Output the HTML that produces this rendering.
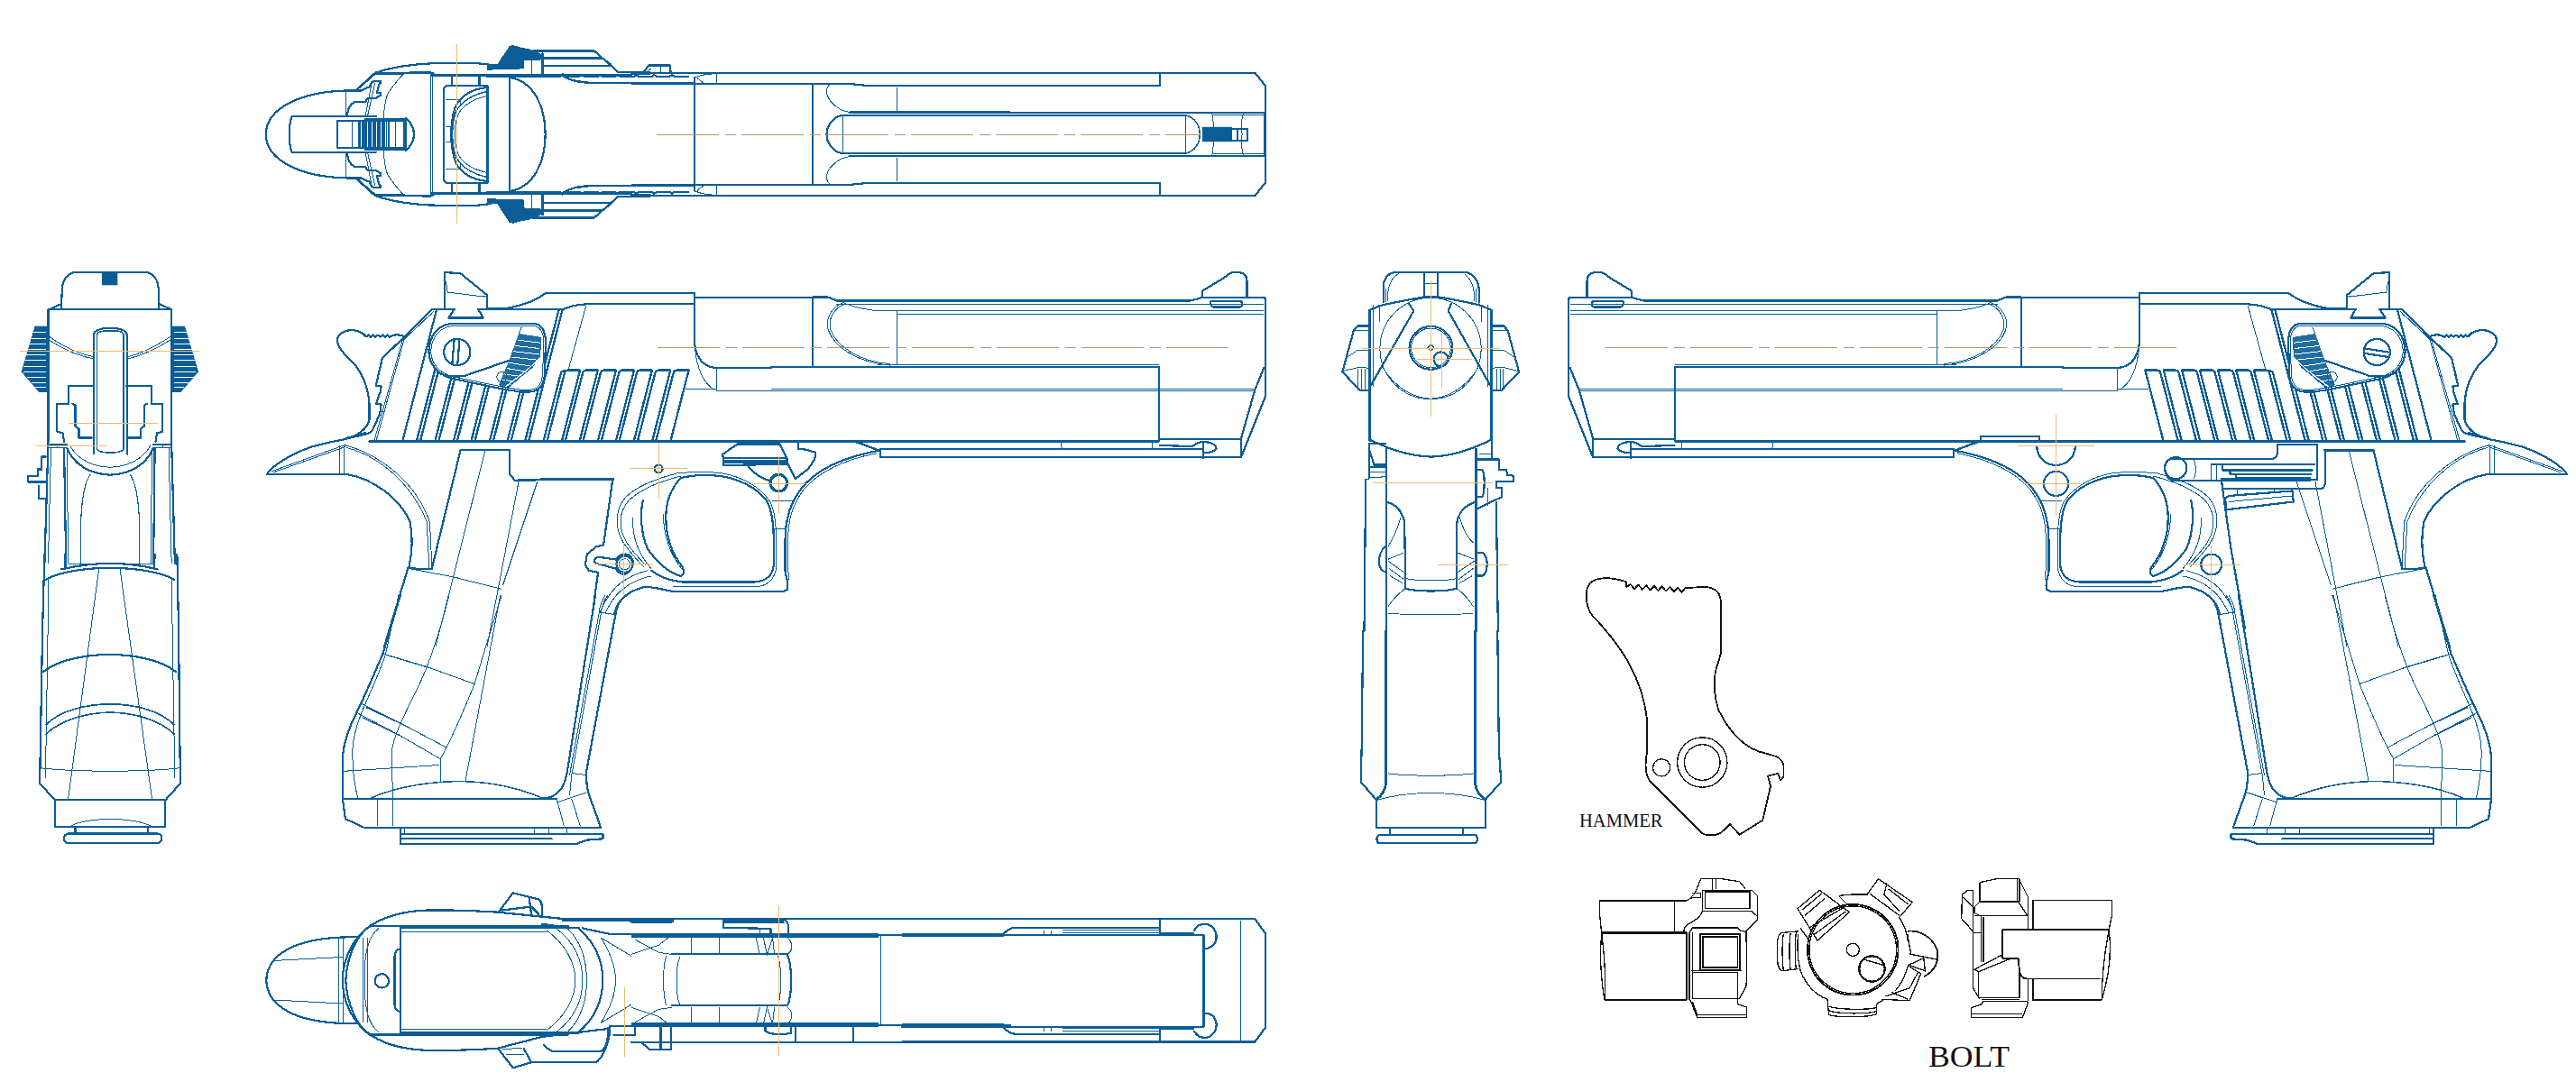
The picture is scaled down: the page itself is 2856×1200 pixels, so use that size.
<!DOCTYPE html>
<html><head><meta charset="utf-8"><style>
html,body{margin:0;padding:0;background:#fff;width:2856px;height:1200px;overflow:hidden}
svg{display:block;shape-rendering:crispEdges}
.k{fill:none;stroke:#0a5d96;stroke-width:2.2;stroke-linejoin:round;stroke-linecap:round}
.m{fill:none;stroke:#0a5d96;stroke-width:1.6;stroke-linejoin:round}
.t{fill:none;stroke:#0a5d96;stroke-width:1}
.k,.m,.t,.o,.b,.bt{vector-effect:non-scaling-stroke}
.f{fill:#0a5d96;stroke:#0a5d96;stroke-width:1}
.w{fill:#fff}
.o{fill:none;stroke:#eebb70;stroke-width:1}
.oc{fill:none;stroke:#b09868;stroke-width:1;stroke-dasharray:69 6.5 12 6.5}
.b{fill:none;stroke:#111;stroke-width:1.8;stroke-linejoin:round}
.bt{fill:none;stroke:#111;stroke-width:1.3}
text{font-family:"Liberation Serif",serif;fill:#111}
</style></head><body>
<svg width="2856" height="1200" viewBox="0 0 2856 1200">
<!-- TOP VIEW -->
<g id="topv">
<g transform="translate(280,40) scale(0.20329)">
 <g id="t1h">
  <path class="k" d="M 590,296 L 500,298 C 280,305 75,385 72,536"/>
  <path class="k" d="M 492,299 L 592,299 L 615,285 L 637,278 L 649,252 L 662,244 L 700,244 L 700,256 L 692,258 L 678,311 L 700,311 L 700,326 L 692,326 L 672,340 L 627,340 L 615,360 L 557,360 C 535,370 520,395 517,426 L 517,438"/>
  <path class="k" d="M 569,291 L 668,201 C 720,183 800,165 870,158 C 920,152 960,149 1000,149 L 1230,149 L 1300,157"/>
  <path class="t" d="M 580,287 L 668,210 L 971,203"/>
  <path class="k" d="M 668,201 L 971,199 L 990,206 L 995,214"/>
  <path class="t" d="M 827,203 C 800,230 760,280 737,315 C 720,360 712,420 712,536"/>
  <path class="t" d="M 668,254 L 627,438"/>
  <path class="t" d="M 650,256 L 615,438"/>
  <path class="k" d="M 492,438 L 672,438"/>
  <path class="k" d="M 665,437 L 215,437 C 203,470 200,500 200,536"/>
  <path class="t" d="M 508,300 L 508,437"/>
  <path class="k" d="M 462,536 L 462,462 L 836,462 L 836,536"/>
  <path class="k" d="M 612,457.5 L 836,457.5" style="stroke-width:3.5;stroke-linecap:butt"/>
  <path class="k" d="M 836,446 C 862,470 880,500 881,536"/>
  <path class="t" d="M 542,462 V 536 M 587,462 V 536 M 606.5,457 V 536 M 631,457 V 536 M 655,457 V 536 M 680,457 V 536 M 704.4,457 V 536 M 729,457 V 536 M 778,457 V 536"/>
  <path class="k" style="stroke-width:2" d="M 578,462 V 536 M 599.6,462 V 536 M 741.3,457 V 536 M 827,457 V 536"/>
  <path class="k" style="stroke-width:3" d="M 618.8,457 V 536 M 643.4,457 V 536 M 668,457 V 536 M 692.1,457 V 536 M 716.7,457 V 536"/>
  <path class="t" d="M 971,203 L 971,536 M 983,215 L 983,536"/>
  <path class="k" d="M 975,214 L 2066,214"/>
  <path class="k" d="M 1089,217 V 272 M 1237,217 V 272"/>
  <path class="k" d="M 1044,536 L 1044,285 L 1057,272 L 1281,272 L 1281,536"/>
  <path class="k" d="M 1269,281 C 1200,290 1150,320 1120,360 C 1095,400 1085,460 1083,536"/>
  <path class="k" d="M 1275,303 C 1200,320 1140,360 1110,410 C 1095,450 1090,490 1090,536" style="stroke-width:1.5"/>
  <path class="t" d="M 1275,328 C 1200,345 1150,380 1125,420 C 1108,460 1102,500 1102,536"/>
  <path class="t" d="M 1052,346 L 1134,346 L 1134,385 M 1052,493 L 1081,493"/>
  <path class="k" d="M 1400,221 L 1400,536"/>
  <path class="k" d="M 1402,226 C 1530,245 1597,380 1597,536"/>
  <path class="k" d="M 1690,216 C 1730,240 1770,252 1820,254 L 2066,254"/>
  <path class="t" d="M 1700,222 C 1740,240 1780,248 1830,248"/>
 </g>
 <use href="#t1h" transform="matrix(1,0,0,-1,0,1072)"/>
 <path class="o" d="M 1114,45 L 1114,1025"/>
</g>
<!-- safety lever top view, native-ish zoom 14.31 -->
<g transform="translate(540,40) scale(0.069877)">
 <g id="sfh">
  <path class="f" d="M 0,450 L 170,450 L 220,360 L 320,215 L 350,160 L 410,145 L 540,180 L 690,210 L 720,235 L 850,275 L 870,330 L 600,340 L 580,520 L 0,540 Z"/>
  <path class="k" d="M 720,235 L 1700,235 L 2080,570 L 2576,575"/>
  <path class="k" d="M 600,350 L 1830,350 L 1960,450"/>
  <path class="k" d="M 880,470 L 1960,470"/>
  <path class="k" d="M 880,280 L 880,610"/>
  <path class="t" d="M 710,390 L 710,610 M 600,380 L 850,380"/>
  <path class="k" d="M 0,610 L 2576,610" style="stroke-width:1.2"/>
  <path class="k" d="M 0,640 L 1160,640 L 1200,605 L 1240,640 L 1470,640 L 1500,615 L 1540,640 L 1760,640 L 1790,615 L 1830,640 L 2040,640 L 2070,615 L 2110,640 L 2330,640 L 2360,615 L 2400,640 L 2620,640 L 2650,615 L 2690,640 L 2900,640 L 2930,615 L 2970,640 L 3190,640"/>
 </g>
 <use href="#sfh" transform="matrix(1,0,0,-1,0,3118)"/>
</g>
<g transform="translate(700,40) scale(0.20329)">
 <g id="t2h">
  <path class="k" d="M 0,200 L 2066,200"/>
  <path class="k" d="M 0,258 L 345,258"/>
  <path class="k" d="M 345,262 L 1200,262 C 1240,265 1280,272 1330,272 L 2066,272"/>
  <path class="k" d="M 345,228 L 345,536"/>
  <path class="t" d="M 345,228 C 370,215 400,208 440,207 M 360,230 L 392,255"/>
  <path class="t" d="M 465,205 L 465,258"/>
  <path class="k" d="M 990,262 L 990,536"/>
  <path class="t" d="M 1080,265 C 1058,290 1058,330 1100,370 C 1130,400 1160,412 1190,415"/>
  <path class="k" d="M 1190,416 L 2066,416"/>
  <path class="k" d="M 1150,431 L 2066,431"/>
  <path class="k" d="M 1150,432 C 1100,440 1065,490 1065,536"/>
  <path class="t" d="M 1155,432 L 1155,536"/>
  <path class="t" d="M 1448,278 L 1448,410"/>
 </g>
 <use href="#t2h" transform="matrix(1,0,0,-1,0,1072)"/>
 <path class="k" d="M 65,200 L 95,160 L 210,160 L 215,200"/>
 <path class="t" d="M 160,168 L 160,200 M 85,195 L 110,175"/>

</g>
<g transform="translate(1000,40) scale(0.20329)">
 <g id="t3h">
  <path class="k" d="M 0,200 L 1925,200 L 1982,272 L 1982,536"/>
  <path class="k" d="M 0,272 L 1405,272 L 1405,200"/>
  <path class="k" d="M 0,417 L 1975,417"/>
  <path class="k" d="M 0,432 L 1548,432"/>
  <path class="t" d="M 1548,432 L 1548,536"/>
  <path class="k" d="M 1548,432 C 1600,445 1625,490 1625,536" style="stroke-width:1.5"/>
  <path class="t" d="M 1690,417 C 1700,460 1700,500 1698,536 M 1862,417 C 1850,460 1850,500 1855,536 M 1690,430 L 1975,430 M 1975,417 L 1975,536"/>
 </g>
 <use href="#t3h" transform="matrix(1,0,0,-1,0,1072)"/>
 <rect class="f" x="1640" y="495" width="160" height="82"/>
 <path class="k" d="M 1800,505 L 1885,505 L 1885,570 L 1800,570 M 1828,505 L 1828,570"/>
</g>
</g>

<g id="LV">

<g id="serr"><path class="k" style="stroke-width:2.3" d="M 462.0,489.0 L 494.6,362 M 466.0,489.0 L 498.6,362 M 482.4,489.0 L 515.0,362 M 486.4,489.0 L 519.0,362 M 502.9,489.0 L 535.5,362 M 506.9,489.0 L 539.5,362 M 522.5,489.0 L 555.1,362 M 526.5,489.0 L 559.1,362 M 542.9,489.0 L 575.5,362 M 546.9,489.0 L 579.5,362 M 562.6,489.0 L 595.2,362 M 566.6,489.0 L 599.2,362 M 582.2,489.0 L 619.6,343.5 M 586.2,489.0 L 623.6,343.5 M 602.6,489.0 L 622.1,413 Q 623.7,410.6 629.7,410.6 M 606.6,489.0 L 626.0,413.6 Q 626.7,410.6 629.7,410.6 L 643.1,410.6 L 623.0,489.0 M 626.7,489.0 L 646.1,413.6 Q 646.8,410.6 649.8,410.6 L 662.8,410.6 L 642.7,489.0 M 646.5,489.0 L 665.9,413.6 Q 666.6,410.6 669.6,410.6 L 683.0,410.6 L 662.9,489.0 M 666.8,489.0 L 686.2,413.6 Q 686.9,410.6 689.9,410.6 L 703.0,410.6 L 682.9,489.0 M 686.6,489.0 L 706.0,413.6 Q 706.7,410.6 709.7,410.6 L 722.9,410.6 L 702.8,489.0 M 707.0,489.0 L 726.4,413.6 Q 727.1,410.6 730.1,410.6 L 743.3,410.6 L 723.2,489.0 M 727.3,489.0 L 746.7,413.6 Q 747.4,410.6 750.4,410.6 L 763.6,410.6 L 743.5,489.0"/>
</g>
<g transform="translate(290,290) scale(0.21933)">
 <path class="k" d="M 925,235 L 925,55 L 1005,60 L 1140,170 L 1140,235"/>
 <path class="t" d="M 932,100 L 940,155 L 1125,178 L 1140,170"/>
 <path class="k" d="M 865,240 L 975,240 L 945,285 L 1120,285 L 1095,240 L 1520,240"/>
 <path class="k" d="M 1140,240 L 1250,235 C 1330,220 1390,195 1435,160 L 2190,160 L 2190,182 L 2576,182"/>
 <path class="k" d="M 2190,160 L 2190,420 C 2195,480 2230,530 2290,537 L 2576,537"/>
 <path class="k" d="M 1525,242 C 1560,225 1600,218 1640,216 L 2190,216"/>
 <path class="t" d="M 2145,645 L 2300,645 M 2300,540 L 2300,655 L 2576,655 M 2190,430 C 2200,550 2240,620 2290,650"/>
 <path class="t" d="M 1640,225 L 1550,550"/>
 <path class="k" d="M 885,243 L 713,906"/>
 <path class="k" d="M 865,240 L 610,490 L 578,628 L 605,632 L 600,660 L 580,720 L 605,722 L 598,770 L 578,815 L 560,855 L 540,870 L 435,895"/>
 <path class="t" d="M 870,252 L 720,395 L 580,905 M 862,262 L 712,400 L 570,905"/>
 <path class="k" d="M 718,378 C 700,370 680,368 660,375 L 648,382 L 636,372 L 624,382 L 612,372 L 600,382 L 588,372 L 576,382 L 564,372 L 552,382 L 540,372 L 528,380 L 510,362 L 480,350 C 430,340 385,360 383,400 C 385,440 430,480 470,520 C 510,570 540,640 545,720 L 545,800 C 530,850 490,880 430,893"/>
 <path class="k" d="M 545,910 L 2576,910"/>
</g>
<!-- safety lever -->
<g transform="translate(440,330) scale(0.15714)">
 <path class="k" style="fill:#fff" d="M 380,185 L 965,185 C 1020,188 1050,230 1050,320 L 1042,555 C 1035,620 1000,660 940,665 L 870,665 L 740,645 L 430,580 C 300,560 228,480 225,380 C 228,270 290,195 380,185 Z"/>
 <path class="t" d="M 395,200 L 962,200 C 1010,204 1036,240 1036,322 L 1028,552 C 1020,610 990,648 940,650 L 872,650 L 742,630 L 432,566 C 310,548 242,475 240,380 C 243,280 300,210 395,200 Z"/>
 <circle class="k" cx="425" cy="385" r="93"/>
 <path class="k" d="M 290,530 C 360,565 430,560 480,552 L 790,445"/>
 <path class="f" style="opacity:0.9" d="M 860,255 L 1020,280 L 1012,420 L 950,480 L 745,640 L 720,615 L 790,450 Z"/>
 <path class="t" style="stroke:#fff" d="M 850,300 L 1010,320 M 835,340 L 1008,360 M 820,380 L 1005,400 M 805,420 L 990,440 M 790,460 L 950,485 M 775,500 L 900,520 M 760,540 L 860,555 M 745,580 L 810,590"/>
 <path class="t" d="M 880,210 L 860,255 M 960,490 L 760,645 M 975,470 L 770,650"/>
 <circle class="t" cx="740" cy="560" r="35"/>
</g>

<g transform="translate(855,290) scale(0.21933)">
 <path class="k" d="M 0,182 L 210,182 M 210,180 L 285,180 L 330,198 L 2120,198 L 2180,182"/>
 <path class="k" d="M 2180,182 L 2180,148 L 2280,88 L 2320,60 C 2340,50 2385,50 2400,75 L 2405,100 L 2405,182 L 2492,182 L 2497,190"/>
 <path class="k" d="M 2180,182 L 2495,182"/>
 <path class="k" d="M 2225,200 L 2370,200 C 2385,205 2385,225 2370,230 L 2235,230 C 2220,225 2218,205 2225,200"/>
 <path class="k" d="M 2497,188 L 2497,685 L 2375,990 M 2490,540 L 2445,650 L 2375,895"/>
 <path class="t" d="M 330,215 L 2490,215 M 370,212 C 420,230 480,245 545,250 L 2490,250 M 635,265 L 2490,265"/>
 <path class="k" d="M 210,180 L 210,535"/>
 <path class="t" d="M 370,205 C 300,230 270,300 290,350 C 320,430 430,510 600,525 M 377,213 C 312,236 284,300 302,350 C 332,425 437,505 600,518"/>
 <path class="t" d="M 635,250 L 635,525"/>
 <path class="k" d="M 0,535 L 1960,535 L 1960,905"/>
 <path class="t" d="M 540,523 L 1960,523"/>
 <path class="t" d="M 0,645 L 2445,645 M 0,655 L 2445,655"/>
 <path class="k" d="M 0,910 L 1960,910 M 1960,900 L 2375,900 L 2375,990 M 550,990 L 2375,990 M 550,950 L 2185,950 M 430,910 L 540,955 M 550,955 L 550,990 M 2185,910 L 2185,995"/>
 <path class="k" d="M 1965,930 L 2130,935 C 2150,915 2170,910 2195,912 C 2230,915 2250,930 2250,945 C 2245,960 2220,968 2190,965"/>
 <path class="t" d="M 1465,915 L 1470,955 M 1925,915 L 1925,950"/>
</g>

<g transform="translate(290,480) scale(0.21933)">
 <path class="k" d="M 30,205 C 60,165 150,105 250,72 C 330,48 400,38 430,30 L 480,14 L 525,0"/>
 <path class="k" d="M 25,210 L 430,210 C 560,230 700,330 750,450 C 765,520 762,600 745,680"/>
 <path class="t" d="M 420,62 C 600,110 780,250 850,450 L 862,690 M 430,75 C 600,120 760,260 835,450 L 848,690 M 50,195 L 420,62 M 60,200 L 425,70"/>
 <path class="t" d="M 395,65 L 395,210 M 415,65 L 415,210"/>
 <path class="k" d="M 1005,90 L 860,690"/>
 <path class="k" d="M 1005,88 L 1255,88"/>
 <path class="t" d="M 1130,90 L 880,1081 M 1300,245 L 1140,1081 M 1395,245 L 1220,770"/>
 <path class="t" d="M 740,685 L 975,730 L 1215,790"/>
 <path class="k" d="M 740,685 L 860,690"/>
 <path class="k" d="M 740,685 L 620,1081"/>
</g>

<g transform="translate(600,460) scale(0.20336)">
 <path class="k" d="M 760,345 C 820,330 900,325 980,335 C 1080,350 1180,400 1230,470 C 1260,520 1268,600 1268,700 L 1268,820 C 1262,880 1220,910 1160,912 L 770,912 C 700,905 640,880 600,850"/>
 <path class="t" d="M 740,320 C 820,310 900,310 980,318 C 1090,335 1190,390 1245,470 C 1275,520 1282,600 1282,700 L 1282,830 C 1275,900 1230,935 1170,938 L 720,938"/>
 <path class="k" d="M 1845,195 C 1650,230 1500,300 1420,400 C 1360,480 1330,560 1330,700 L 1330,850 C 1335,900 1355,920 1340,955 L 1320,965 L 720,965 C 650,950 600,935 560,940 C 480,960 420,1000 400,1082"/>
 <path class="t" d="M 1830,210 C 1650,245 1510,315 1430,410 C 1370,490 1345,570 1345,700 L 1348,900 M 1260,470 L 1370,470 M 1270,620 L 1330,620"/>
 <path class="k" d="M 555,465 C 540,530 540,640 580,730 C 640,820 700,860 760,880 C 780,872 782,850 770,830 C 700,740 680,640 680,560 C 680,470 710,400 760,345"/>
 <path class="t" d="M 665,540 C 668,650 700,760 770,845 M 500,560 C 495,660 530,760 600,840"/>
 <path class="k" d="M 1720,150 L 1845,195"/>
 <path class="t" d="M 1850,195 L 1850,235"/>
 <path class="k" d="M 0,350 L 390,350 L 340,710"/>
 <path class="t" d="M 745,318 C 620,350 520,390 460,450 C 400,520 400,620 450,700 C 490,760 530,800 560,830 M 760,335 C 640,365 545,405 480,465 C 420,530 420,620 465,695 C 500,750 540,790 570,820"/>
 <path class="t" d="M 580,850 C 500,870 440,900 390,960 C 350,1010 330,1050 320,1082 M 600,880 C 520,895 460,930 410,985 C 380,1020 360,1060 350,1082"/>
</g>

<g transform="translate(290,660) scale(0.27723)">
 <path class="k" d="M 555,0 L 485,235 C 440,340 400,430 380,470 C 350,530 330,580 325,640 L 325,820 L 335,895 L 410,930 L 1355,930"/>
 <path class="k" d="M 1460,0 C 1435,15 1420,45 1415,80 L 1300,700 C 1298,740 1302,780 1310,800 L 1355,925"/>
 <path class="k" d="M 1335,0 L 1225,690 C 1215,760 1195,795 1150,810 L 1120,815"/>
 <path class="t" d="M 1385,0 C 1370,20 1360,45 1358,70 L 1240,720 L 1232,800 M 1375,0 C 1362,20 1352,45 1350,70 L 1232,720"/>
 <path class="k" d="M 330,815 L 1180,815"/>
 <path class="t" d="M 463,820 L 463,925 M 525,820 L 525,925"/>
 <path class="t" d="M 1180,815 L 1210,925 M 1240,815 L 1275,925 M 1240,712 L 1300,720 M 1180,830 L 1300,790 M 1358,70 L 1415,78"/>
 <path class="k" d="M 430,815 C 550,760 700,745 800,745 C 950,748 1050,780 1130,815" style="stroke-width:1.5"/>
 <path class="t" d="M 485,235 L 670,290 L 850,355 M 400,435 L 570,520 L 740,610 M 380,470 L 550,560 L 715,655 M 320,705 L 710,680"/>
 <path class="k" d="M 485,235 L 670,290 M 420,450 L 570,520 M 405,490 L 550,560" style="stroke-width:1.4"/>
 <path class="t" d="M 750,0 C 700,200 660,300 620,380 C 560,500 520,580 520,640 L 525,815 M 960,0 L 850,360 C 800,480 760,580 715,655 L 715,745 M 955,0 L 815,745"/>
 <path class="t" d="M 548,0 L 495,240 C 440,400 380,480 365,600 C 360,680 370,750 385,815"/>
 <path class="k" d="M 555,930 L 555,995 L 1260,995 L 1300,980 L 1365,975 L 1365,955 L 1270,955 M 555,955 L 1270,955 M 555,975 L 1160,975"/>
 <path class="t" d="M 570,930 L 570,955 M 1090,930 L 1090,955 M 1150,930 L 1150,955 M 1220,930 L 1220,955"/>
</g>

</g>

<use href="#LV" transform="matrix(-1,0,0,1,3142,0)"/>

<g transform="translate(600,460) scale(0.20336)">
 <circle class="k" cx="640" cy="295" r="22"/>
 <path class="k" d="M 990,215 L 1070,160 L 1300,160 L 1340,240 L 1345,270 L 995,275 Z"/>
 <path class="k" d="M 995,235 L 1335,235 M 995,250 L 1340,250 M 995,262 L 1340,262"/>
 <path class="k" d="M 1130,285 C 1170,330 1210,350 1245,360 M 1345,270 L 1385,350 M 1385,350 L 1450,300 C 1490,260 1500,220 1495,205 L 1440,190 L 1400,185 L 1400,150"/>
 <circle class="k" cx="1295" cy="372" r="48" style="fill:#fff"/>
 <circle class="t" cx="1295" cy="372" r="40"/>
 <path class="o" d="M 1160,375 L 1440,375 M 1295,220 L 1295,535"/>
 <path class="k" d="M 310,775 L 410,790 C 420,770 440,760 460,760 C 490,762 505,790 500,815 C 495,850 470,870 450,870 C 430,870 415,855 410,840 L 300,810 C 285,800 285,785 310,775 Z"/>
 <circle class="k" cx="455" cy="815" r="45"/>
 <circle class="t" cx="455" cy="815" r="30"/>
 <path class="t" d="M 425,815 L 485,815"/>
 <path class="o" d="M 480,295 L 800,295 M 640,150 L 640,455 M 450,700 L 450,980 M 300,815 L 610,815"/>
 <path class="k" d="M 340,710 L 300,720 L 250,760 L 240,820 L 260,850 L 310,860 L 280,1082"/>
</g>
<g transform="translate(290,480) scale(0.21933)">
 <path class="k" d="M 1255,88 L 1255,210 L 1280,240 L 1780,235"/>
</g>
<g transform="translate(440,330) scale(0.15714)">
 <path class="k" d="M 405,298 L 390,472 M 442,295 L 428,472"/>
</g>

<g transform="translate(2160,460) scale(0.21933)">
 <path class="k" d="M 2150,180 L 1905,180 L 1905,345 C 1905,362 1895,375 1878,375 L 1390,375"/>
 <path class="k" d="M 1426,658 L 1500,1081"/>
 <path class="k" d="M 165,132 L 165,108 L 460,108 L 460,132"/>
 <path class="k" d="M 448,158 A 97,97 0 0 0 642,158"/>
 <circle class="k" cx="545" cy="348" r="62"/>
 <circle class="k" cx="1330" cy="757" r="52"/>
 <path class="o" d="M 355,158 L 740,158 M 545,0 L 545,510 M 385,348 L 665,348 M 1185,757 L 1475,757 M 1330,660 L 1330,910"/>
 <path class="k" d="M 1130,330 C 1105,320 1095,290 1095,265 C 1095,240 1105,225 1140,222 L 1640,222 C 1660,220 1665,205 1665,180 L 1665,150 L 1865,150 L 1865,330 L 1130,333"/>
 <circle class="k" cx="1150" cy="270" r="55"/>
 <path class="t" d="M 1240,228 C 1255,250 1255,300 1240,325 M 1330,250 L 1330,330 M 1355,255 L 1355,330"/>
 <path class="k" d="M 1330,250 L 1850,250 M 1385,258 L 1385,280 L 1840,280 M 1425,285 L 1425,300 L 1835,300 M 1455,305 L 1455,320 L 1830,320"/>
 <path class="k" d="M 1400,420 L 1420,410 L 1740,385 L 1745,440 L 1405,480 Z"/>
 <path class="t" d="M 1460,380 L 1460,410 M 1650,375 L 1650,395 M 1420,440 L 1740,410"/>
</g>
<path class="k" d="M 2622,386.5 L 2648,390.5 M 2622,392 L 2648,396"/>

<!-- REAR VIEW -->
<g transform="translate(20,290) scale(0.30942)">
 <path class="k" d="M 155,165 L 158,95 C 162,58 185,38 212,38 L 453,38 C 480,38 500,60 503,95 L 505,165"/>
 <rect class="f" x="302" y="38" width="55" height="47"/>
 <path class="k" d="M 118,170 L 155,152 M 505,152 L 545,170"/>
 <path class="k" d="M 108,650 L 108,172 L 550,172 L 550,650"/>
 <path class="t" d="M 112,270 C 170,310 230,335 275,342 M 112,282 C 170,320 230,342 275,350 M 545,270 C 485,310 425,335 388,342 M 545,282 C 485,320 425,342 388,350"/>
 <path class="k" d="M 272,690 L 272,262 C 272,248 290,240 330,238 C 370,240 390,248 390,262 L 392,690"/>
 <path class="m" d="M 283,670 L 283,262 C 283,252 300,248 330,248 C 362,248 378,252 378,262 L 378,670 C 378,680 365,685 330,685 C 295,685 283,680 283,670"/>
 <g id="rstep">
  <path class="k" d="M 270,445 L 180,445 L 180,510 L 140,510 L 140,610 L 160,615 L 165,645"/>
  <path class="k" d="M 195,510 L 205,515 L 205,590 L 218,600 L 218,632 L 265,632"/>
  <path class="f" d="M 60,232 L 108,232 L 108,468 L 75,468 L 12,395 L 46,282 Z"/>
  <path class="t" style="stroke:#fff" d="M 50,255 L 100,255 M 45,275 L 100,275 M 40,295 L 100,295 M 35,315 L 100,315 M 30,335 L 100,335 M 25,355 L 100,355 M 20,375 L 100,375 M 20,395 L 100,395 M 32,415 L 100,415 M 48,435 L 100,435 M 62,452 L 100,452"/>
 </g>
 <use href="#rstep" transform="matrix(-1,0,0,1,658,0)"/>
 <path class="k" d="M 108,655 L 175,655 M 485,655 L 550,655"/>
 <path class="t" d="M 108,668 L 175,668 M 485,668 L 550,668 M 140,655 L 140,668 M 518,655 L 518,668"/>
 <path class="t" d="M 185,660 C 215,710 265,735 330,738 C 395,735 445,710 475,660"/>
 <path class="k" d="M 175,668 C 200,730 260,762 330,765 C 400,762 460,730 485,668"/>
 <path class="k" d="M 108,655 L 95,1082 M 165,668 L 172,1082 M 490,668 L 485,1082 M 550,655 L 562,1082"/>
 <path class="t" d="M 118,668 L 108,1082 M 540,668 L 550,1082 M 175,668 L 180,1082 M 480,668 L 476,1082"/>
 <path class="k" d="M 100,700 L 85,700 L 85,745 L 70,745 L 70,770 L 35,770 L 35,790 L 100,790 M 75,805 L 75,850 L 100,850"/>
 <path class="t" d="M 225,1082 C 220,900 230,800 260,762 M 435,1082 C 440,900 430,800 400,762"/>
 <path class="o" d="M 5,323 L 650,323 M 60,660 L 320,660 M 180,580 L 500,580"/>
</g>
<g transform="translate(20,615) scale(0.30942)">
 <path class="k" d="M 95,0 L 88,250 L 80,700 L 78,820 L 130,878 M 570,0 L 575,250 L 580,700 L 582,820 L 530,878"/>
 <path class="k" d="M 133,878 L 133,975 L 528,975 L 528,878 Z"/>
 <path class="k" d="M 180,1000 L 500,1000 C 520,1005 520,1030 500,1035 L 180,1035 C 160,1030 160,1005 180,1000 M 205,975 L 205,1000 M 465,975 L 465,1000"/>
 <path class="k" d="M 155,53 C 220,38 280,32 330,32 C 380,32 440,38 500,53"/>
 <path class="t" d="M 180,35 L 480,35"/>
 <path class="k" d="M 100,90 C 150,60 250,48 330,48 C 410,48 510,60 560,90"/>
 <path class="k" d="M 90,420 C 150,375 250,360 330,358 C 410,360 510,375 565,420"/>
 <path class="k" d="M 100,610 C 150,560 240,537 330,536 C 420,537 510,560 559,610 M 99,645 C 150,595 240,567 330,566 C 420,567 510,595 559,643" style="stroke-width:1.7"/>
 <path class="t" d="M 80,765 C 200,780 460,780 580,765"/>
 <path class="t" d="M 290,50 L 180,875 M 365,50 L 480,875"/>
 <path class="t" d="M 110,80 L 100,700 L 100,800 M 550,80 L 560,700 L 560,800"/>
 <path class="t" d="M 185,975 C 250,940 410,940 480,975"/>
 <path class="k" d="M 168,0 L 170,50 M 490,0 L 488,50"/>
</g>

<!-- FRONT VIEW -->
<g transform="translate(1480,295) scale(0.20790)">
 <path class="k" d="M 258,192 L 258,110 C 262,60 290,35 330,32 L 695,32 C 740,40 765,80 768,120 L 768,195"/>
 <path class="t" d="M 280,188 C 280,110 300,62 340,42 M 745,188 C 745,110 720,62 690,42 M 270,190 L 270,120 M 755,190 L 755,120"/>
 <path class="k" d="M 475,35 L 475,162 M 548,35 L 548,162"/>
 <path class="t" d="M 480,95 L 545,95"/>
 <path class="k" d="M 185,235 L 240,212 C 320,192 400,180 475,165 L 548,165 C 640,180 720,195 780,212 L 835,235"/>
 <path class="k" d="M 185,235 L 185,930 M 835,235 L 835,930"/>
 <path class="k" d="M 205,212 L 205,640 M 815,212 L 815,640" style="stroke-width:1.6"/>
 <path class="t" d="M 240,212 L 240,300 M 780,212 L 780,300"/>
 <path class="k" d="M 185,925 C 300,985 420,1015 512,1018 C 600,1015 720,985 835,925"/>
 <circle class="t" cx="510" cy="440" r="270"/>
 <path class="t" d="M 255,540 C 320,650 420,705 510,708 C 600,705 700,650 765,540"/>
 <path class="k" d="M 395,200 L 420,240 L 190,640 M 620,200 L 605,240 L 830,640"/>
 <circle class="k" cx="512" cy="437" r="115"/>
 <circle class="t" cx="512" cy="437" r="105"/>
 <path class="t" d="M 420,370 L 490,330"/>
 <path class="k" d="M 512,420 L 529,437 L 512,454 L 495,437 Z" style="stroke-width:1.3"/>
 <circle class="k" cx="565" cy="497" r="38"/>
 <g id="fsaf2">
  <path class="k" d="M 120,320 L 185,320 L 185,665 L 135,665 L 40,565 L 100,345 Z"/>
  <path class="t" d="M 100,345 L 185,345 M 45,560 L 130,540 L 185,545 M 125,550 L 125,665 M 140,550 L 140,665 M 160,550 L 160,665 M 60,490 L 120,450 L 185,450"/>
 </g>
 <use href="#fsaf2" transform="matrix(-1,0,0,1,1022,0)"/>
 <path class="o" d="M 145,440 L 880,440 M 512,75 L 512,805 M 440,497 L 730,497 M 570,350 L 570,650"/>
</g>
<g transform="translate(1480,480) scale(0.20325)">
 <path class="k" d="M 190,0 L 190,45 M 185,60 L 185,250 M 168,255 L 160,1082"/>
 <path class="k" style="stroke-width:2.8" d="M 280,90 L 280,1082 M 770,90 L 770,1082"/>
 <path class="k" d="M 185,60 L 275,60 M 190,100 L 215,175 L 275,175 M 190,185 L 275,185"/>
 <path class="t" d="M 185,215 L 275,215 M 180,245 L 275,240 M 168,255 L 185,250"/>
 <path class="k" d="M 855,40 L 855,140 M 770,90 L 770,1082 M 880,380 L 890,1082"/>
 <path class="k" d="M 775,145 L 895,145 L 895,200 L 935,200 L 940,230 L 975,235 L 975,265 L 880,265 L 880,300 L 910,300 L 910,350 L 775,415"/>
 <path class="k" d="M 775,200 L 800,200 C 812,205 815,230 815,270 C 815,320 812,345 800,350 L 775,350"/>
 <path class="t" d="M 785,115 L 855,115 M 835,300 L 835,400"/>
 <path class="k" d="M 290,380 C 340,395 375,440 380,500 L 385,850 M 760,380 C 710,395 668,440 665,500 L 665,850 M 385,850 C 450,868 600,868 665,850"/>
 <path class="t" d="M 385,795 C 450,810 600,810 665,795"/>
 <path class="t" d="M 290,690 L 375,655 M 290,700 L 375,760 M 295,740 L 375,800 M 300,780 L 370,820 M 760,690 L 670,655 M 760,700 L 670,760 M 755,740 L 675,800 M 750,780 L 680,820"/>
 <path class="t" d="M 360,460 C 340,530 310,590 290,620 M 680,460 C 700,530 730,580 755,600"/>
 <path class="t" d="M 385,850 C 340,880 300,930 290,950 M 665,850 C 710,880 745,930 755,950 M 290,985 C 400,995 640,995 755,985"/>
 <path class="k" d="M 275,620 C 250,640 240,680 240,700 C 240,730 255,755 275,760"/>
 <path class="k" d="M 770,655 L 805,655 C 820,665 830,690 830,715 C 830,745 820,775 805,780 L 770,780"/>
 <path class="o" d="M 205,275 L 860,275 M 560,720 L 945,720"/>
</g>
<g transform="translate(1470,615) scale(0.30942)">
 <path class="k" d="M 133,275 L 128,700 L 125,815 L 180,878 M 615,275 L 620,700 L 628,815 L 572,878"/>
 <path class="k" style="stroke-width:2.8" d="M 215,275 L 215,820 C 212,850 200,865 180,878 M 535,275 L 535,820 C 538,850 550,865 572,878"/>
 <path class="k" d="M 180,878 L 180,978 L 572,978 L 572,878"/>
 <path class="k" d="M 190,1005 L 535,1005 C 545,1010 545,1030 535,1035 L 190,1035 C 180,1030 180,1010 190,1005 M 230,978 L 230,1005 M 490,978 L 490,1005"/>
 <path class="t" d="M 222,785 C 300,795 450,795 530,785 M 185,880 C 250,860 310,855 375,855 C 440,855 500,860 570,880"/>
</g>

<!-- BOTTOM VIEW -->
<g transform="translate(280,975) scale(0.20329)">
 <g id="b1h">
  <path class="k" d="M 570,315 L 470,318 C 250,330 80,400 75,552"/>
  <path class="t" d="M 470,318 L 470,552 M 495,318 L 495,552 M 115,445 L 495,425"/>
  <path class="k" d="M 1330,180 C 1200,172 1050,168 950,170 C 800,175 700,210 620,270 C 540,340 495,440 490,552"/>
  <path class="k" d="M 640,256 L 1720,256" style="stroke-width:2.8"/>
  <path class="k" d="M 640,258 C 570,300 515,420 508,552"/>
  <path class="t" d="M 690,268 C 630,310 610,400 610,552 M 605,320 L 605,552 M 625,320 L 625,552"/>
  <path class="k" d="M 805,552 L 805,265 L 1780,265"/>
  <path class="t" d="M 810,287 L 1605,287"/>
  <path class="t" d="M 1605,280 C 1700,350 1760,450 1760,552 M 1660,272 C 1760,350 1800,450 1800,552 M 1720,272 C 1800,350 1822,450 1822,552"/>
  <path class="k" d="M 1780,270 C 1870,350 1910,450 1910,552"/>
  <path class="t" d="M 1900,320 C 1950,400 1980,470 1980,552 M 1900,320 L 2066,420"/>
  <path class="k" d="M 805,380 C 785,385 775,400 775,420 L 775,552"/>
 </g>
 <use href="#b1h" transform="matrix(1,0,0,-1,0,1104)"/>
 <circle class="k" cx="705" cy="555" r="38"/>
 <path class="k" d="M 1330,180 L 1680,215 L 2066,215 M 1580,245 L 1720,265 M 1800,268 L 1950,300 L 2066,300"/>
 <path class="k" d="M 1690,225 L 2066,225"/>
 <path class="k" d="M 1340,182 L 1420,75 L 1560,110 C 1580,120 1582,150 1580,200 M 1360,170 L 1520,150 L 1560,190 M 1510,110 L 1520,190"/>
 <path class="k" d="M 1340,925 L 1420,1030 L 1520,1000 L 1480,925 M 1330,925 L 1580,860 L 1950,815 M 1520,1000 L 1870,1000 C 1900,990 1950,900 1950,800 M 1590,905 C 1610,930 1630,940 1650,940 L 1900,940 C 1930,920 1940,880 1940,810"/>
 <path class="t" d="M 1360,930 L 1470,920 M 1380,955 L 1480,955"/>
 <path class="k" d="M 1950,800 L 2066,800 M 1970,850 L 2066,850"/>
</g>
<g transform="translate(700,975) scale(0.20329)">
 <path class="k" d="M 0,218 L 2066,218"/>
 <path class="k" d="M 0,229 L 221,229" style="stroke-width:4"/>
 <path class="k" d="M 500,215 L 820,215 C 840,218 850,230 855,250 L 855,295 M 500,215 L 500,265 L 760,270 L 760,300"/>
 <path class="f" d="M 500,215 L 830,215 L 835,240 L 500,240 Z"/>
 <path class="t" d="M 700,275 L 700,305"/>
 <path class="k" d="M 0,309 L 1350,309" style="stroke-width:5.3;stroke-linecap:butt"/>
 <path class="k" d="M 1350,305 L 2066,305"/>
 <path class="k" d="M 220,410 L 850,410 C 870,450 875,550 870,600 C 865,650 860,680 850,690 L 220,690"/>
 <path class="t" d="M 190,420 C 170,480 170,620 190,690 M 265,425 C 240,480 240,620 265,690 M 800,420 C 820,480 820,620 800,690"/>
 <path class="t" d="M 325,320 L 325,410 M 480,320 L 480,410 M 325,700 L 325,790 M 480,700 L 480,790 M 1358,310 L 1358,795"/>
 <path class="t" d="M 680,320 L 700,410 M 720,320 L 740,410 L 770,320 L 780,410 M 680,790 L 700,700 M 720,790 L 740,700 L 770,790 L 780,700 M 850,320 C 880,340 885,390 850,410 M 850,790 C 880,770 885,720 850,700"/>
 <path class="t" d="M 0,410 L 150,360 L 200,320 M 20,330 L 150,400 L 220,410 M 0,700 L 150,750 L 200,790 M 20,780 L 150,710 L 220,700"/>
 <path class="k" d="M 0,795 L 1350,795" style="stroke-width:5.3;stroke-linecap:butt"/>
 <path class="k" d="M 1350,798 L 2066,798 M 0,890 L 2066,890"/>
 <path class="k" d="M 895,800 L 895,885 M 1210,800 L 1210,885 M 215,800 L 215,930 L 100,930 L 60,895 M 160,800 L 160,930"/>
 <path class="k" d="M 730,805 L 730,830 C 760,845 800,855 870,840 L 870,805"/>
 <path class="k" d="M 0,850 L 20,850 L 20,800"/>
</g>
<g transform="translate(1000,975) scale(0.20329)">
 <path class="k" d="M 0,218 L 1925,218 L 1982,295 L 1982,810 L 1925,888 L 0,888"/>
 <path class="k" d="M 1405,218 L 1405,295 M 1405,810 L 1405,888"/>
 <path class="t" d="M 1848,225 L 1848,885"/>
 <path class="k" d="M 0,305 L 1645,305 L 1645,805 L 0,805"/>
 <path class="k" d="M 0,305.5 L 555,305.5 M 0,799 L 555,799" style="stroke-width:4;stroke-linecap:butt"/>
 <path class="k" d="M 555,298 C 580,270 600,265 620,265 L 1400,265 M 555,808 C 580,840 600,845 620,845 L 1400,845"/>
 <path class="t" d="M 875,280 L 1400,280 M 875,295 L 1400,295 M 875,828 L 1400,828 M 875,815 L 1400,815 M 775,280 L 775,305 M 815,280 L 815,305 M 775,805 L 775,830 M 815,805 L 815,830"/>
 <path class="k" d="M 1595,280 C 1610,250 1630,245 1650,245 C 1690,245 1715,280 1715,315 C 1715,350 1690,378 1655,378 M 1595,830 C 1610,860 1630,865 1650,865 C 1690,865 1715,830 1715,795 C 1715,760 1690,732 1655,732"/>
 <path class="k" d="M 1410,295 L 1590,295 M 1410,815 L 1590,815"/>
</g>
<path class="o" d="M 863,1004 L 863,1171"/>
<path class="o" d="M 692,1095 L 692,1172"/>

<!-- HAMMER -->
<g transform="translate(1730,630) scale(0.29126)">
 <path class="b" d="M 250,52 C 200,36 140,30 112,58 C 92,85 90,160 140,200 C 220,290 310,400 330,580 L 330,700 C 320,750 323,785 340,810 L 540,1010 C 560,1022 600,1020 620,1000 L 645,975 L 682,1015 L 770,960 L 800,830 L 790,792 L 828,782 L 838,808 L 850,795 L 850,752 C 842,722 822,716 782,706 C 700,690 640,620 602,540 C 582,480 582,400 600,362 L 612,322 L 612,142 C 612,92 592,72 542,72 L 475,76 L 462,92 L 447,74 L 432,90 L 417,72 L 402,88 L 387,70 L 372,86 L 357,68 L 342,84 L 327,66 L 312,82 L 297,64 L 282,80 L 267,62 L 252,72 Z"/>
 <circle class="bt" cx="385" cy="760" r="33"/>
 <circle class="bt" cx="540" cy="740" r="95"/>
 <circle class="bt" cx="540" cy="740" r="68"/>
</g>
<text x="1751" y="917" font-size="20.5" textLength="92.5" lengthAdjust="spacingAndGlyphs">HAMMER</text>

<!-- BOLT left -->
<g transform="translate(1760,970) scale(0.15711)">
 <path class="b" d="M 85,185 L 700,185 M 100,410 L 700,410" style="stroke-width:2.2"/>
 <path class="bt" d="M 85,185 C 80,250 90,330 100,410 C 108,500 140,700 120,885 M 100,415 C 90,520 90,700 120,885 M 120,885 L 700,885 M 615,190 L 615,405 M 700,410 L 700,885 M 718,410 L 718,885"/>
 <path class="bt" d="M 700,185 C 730,170 740,150 760,130 L 800,30 L 950,30 L 1075,50 L 1115,100 M 810,110 L 1160,110 L 1200,150 L 1200,320 L 1110,405 M 830,120 L 1145,120 L 1145,240 L 830,240 Z M 810,110 L 810,260 L 1160,260 L 1195,290 M 810,260 C 800,290 770,320 720,345 C 690,360 680,380 680,405 M 740,130 L 800,130 L 800,160 L 730,165 M 880,35 L 880,110 M 905,35 L 905,105"/>
 <path class="bt" d="M 740,375 L 1060,375 L 1080,395 L 1120,405 L 1125,680 L 1120,790 L 1075,870 L 1060,880 L 1060,915 L 1125,935 L 1125,1010 L 775,1010 L 730,895 L 720,880 L 720,410 Z M 795,420 L 1075,420 L 1075,670 L 795,670 Z M 815,440 L 1060,440 L 1060,655 L 815,655 Z M 735,680 L 1090,680 M 740,690 L 1060,690 L 1060,880 M 740,875 L 1060,875 M 740,895 L 775,990 L 1125,990 M 740,410 L 740,880"/>
</g>
<!-- BOLT middle -->
<g transform="translate(1960,970) scale(0.15711)">
 <circle class="b" cx="600" cy="530" r="320"/>
 <circle class="bt" cx="600" cy="530" r="308"/>
 <path class="bt" d="M 500,150 C 560,140 640,138 705,140 M 925,300 C 960,350 985,420 990,480 M 990,640 C 975,700 950,760 900,820 M 215,420 C 205,500 210,600 230,680 C 270,780 340,850 420,880 M 770,910 C 790,900 810,890 820,880"/>
 <path class="bt" d="M 215,400 L 100,410 C 70,420 65,460 65,540 C 65,620 70,670 100,680 L 215,665 M 110,420 C 100,480 100,600 110,675 M 160,415 C 150,480 150,600 160,672 M 200,408 C 190,480 190,600 200,668"/>
 <path class="bt" d="M 210,240 L 365,110 L 575,265 L 350,465 Z M 240,250 L 380,135 M 260,290 L 400,170 M 300,370 L 530,235 M 330,420 L 550,260 M 230,380 L 290,460 M 500,150 L 560,210"/>
 <path class="bt" d="M 700,140 L 780,30 L 1020,195 L 930,300 M 840,60 L 820,140 L 930,260 M 720,135 L 930,290 M 850,100 L 990,210"/>
 <path class="b" d="M 985,400 C 1050,390 1150,420 1195,530 C 1210,620 1180,680 1100,720"/>
 <path class="bt" d="M 1000,560 L 1200,600 M 990,640 L 1100,590 L 1110,680 L 1000,640 M 985,420 L 1010,560"/>
 <path class="bt" d="M 800,880 L 1000,890 L 1080,700 L 985,640 M 830,860 L 1000,800 L 1060,690 M 870,830 L 990,880"/>
 <path class="bt" d="M 420,880 L 430,990 C 500,1010 700,1010 765,985 L 770,910 M 430,930 C 500,955 700,955 765,940 M 430,960 C 500,985 700,985 765,965"/>
 <circle class="bt" cx="600" cy="530" r="45"/>
 <circle class="b" cx="735" cy="665" r="90" style="stroke-width:2.2"/>
 <path class="bt" d="M 680,600 L 820,640"/>
</g>
<!-- BOLT right -->
<g transform="translate(2170,970) scale(0.15711)">
 <path class="bt" d="M 535,180 L 1090,180 L 1090,295 L 1070,390 M 535,180 L 535,390 M 500,175 L 500,390"/>
 <path class="b" d="M 320,390 L 1070,390 M 320,390 L 320,590 L 430,590 L 440,690 C 450,720 470,735 490,735 L 1010,735"/>
 <path class="bt" d="M 535,735 L 535,885 L 1020,885 M 500,735 L 500,890 M 1070,390 C 1050,500 1020,650 1020,885 M 1070,390 C 1085,500 1090,650 1020,885"/>
 <path class="bt" d="M 160,55 L 275,30 L 435,30 L 500,160 L 500,290 M 160,55 L 160,190 L 430,190 L 495,290 M 160,190 L 120,230 L 120,270 L 160,290 L 495,290 M 425,35 L 425,190 M 440,35 L 440,190"/>
 <path class="bt" d="M 35,140 L 75,110 L 110,110 L 110,400 L 30,310 Z M 40,160 L 110,230"/>
 <path class="bt" d="M 110,400 L 110,800 L 160,880 M 120,290 L 170,290 L 170,620 M 110,410 L 165,410 M 185,300 L 185,615"/>
 <path class="bt" d="M 120,670 L 310,570 L 320,590 L 360,600 L 150,685 Z"/>
 <path class="bt" d="M 150,685 L 150,870 L 440,870 L 440,690 M 170,880 L 440,880"/>
 <path class="bt" d="M 100,940 L 170,915 L 180,895 L 490,895 L 500,905 L 460,1010 L 100,1010 Z M 100,985 L 460,985"/>
</g>
<text x="2138" y="1182.6" font-size="34.5" textLength="90" lengthAdjust="spacingAndGlyphs">BOLT</text>

<path class="oc" d="M 728,149.5 L 1331,149.5"/>
<path class="oc" d="M 729,385.5 L 1362,385.5"/>
<path class="oc" d="M 1780,385.5 L 2413,385.5"/>

</svg>
</body></html>
